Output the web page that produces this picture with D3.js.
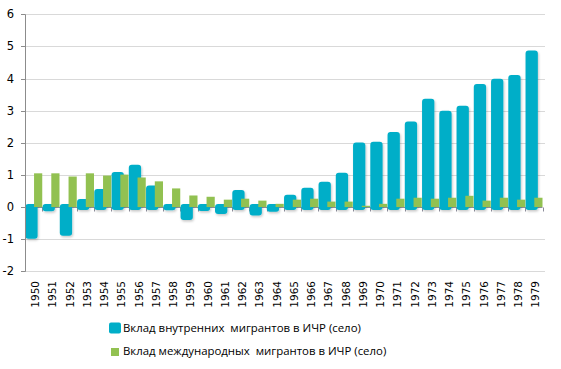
<!DOCTYPE html>
<html><head><meta charset="utf-8">
<script src="https://cdn.jsdelivr.net/npm/d3@7"></script>
<style>body{margin:0;background:#fff}svg{display:block}text{font-family:"DejaVu Sans",Verdana,sans-serif}</style>
</head><body><svg id="c" width="561" height="369"></svg>
<script>
const years = [1950,1951,1952,1953,1954,1955,1956,1957,1958,1959,1960,1961,1962,1963,1964,1965,1966,1967,1968,1969,1970,1971,1972,1973,1974,1975,1976,1977,1978,1979];
const internal = [-0.99,-0.13,-0.89,0.25,0.56,1.09,1.32,0.67,-0.1,-0.4,-0.12,-0.22,0.53,-0.26,-0.15,0.38,0.6,0.79,1.07,2.01,2.03,2.34,2.66,3.37,3.0,3.15,3.83,3.99,4.11,4.87];
const international = [1.05,1.05,0.95,1.05,0.98,1.01,0.92,0.8,0.58,0.36,0.32,0.23,0.26,0.2,0.1,0.23,0.26,0.17,0.17,0.04,0.1,0.26,0.29,0.26,0.29,0.35,0.2,0.29,0.23,0.29];
const yTicks = [-2,-1,0,1,2,3,4,5,6];
const seriesNames = ["Вклад внутренних  мигрантов в ИЧР (село)","Вклад международных  мигрантов в ИЧР (село)"];
const colors = ["#01aec8","#92c151"];

const svg = d3.select("#c");
const x0 = 25, x1 = 542.5;
const y = d3.scaleLinear().domain([-2,6]).range([271.3,14.3]);
const x = d3.scaleBand().domain(years).range([x0,x1]).padding(0);
const bw = x.bandwidth();

const defs = svg.append("defs");
const f = defs.append("filter").attr("id","sh").attr("x","-30%").attr("y","-30%").attr("width","160%").attr("height","160%");
f.append("feDropShadow").attr("dx",1).attr("dy",1.5).attr("stdDeviation",1).attr("flood-color","#000").attr("flood-opacity",0.22);

// gridlines
svg.append("g").selectAll("line").data(yTicks.filter(d=>d!==0)).join("line")
  .attr("x1",x0).attr("x2",545).attr("y1",d=>Math.round(y(d))+0.5).attr("y2",d=>Math.round(y(d))+0.5)
  .attr("stroke","#d9d9d9").attr("stroke-width",1);

// zero axis
const zy = Math.round(y(0))+0.5;
svg.append("line").attr("x1",x0).attr("x2",x1).attr("y1",zy).attr("y2",zy).attr("stroke","#8c8c9a");
svg.append("g").selectAll("line").data(d3.range(years.length+1)).join("line")
  .attr("x1",i=>Math.round(x0+i*bw)+0.5).attr("x2",i=>Math.round(x0+i*bw)+0.5)
  .attr("y1",zy).attr("y2",zy+4).attr("stroke","#8c8c9a");

// blue bars
const ext = 3;
svg.append("g").attr("filter","url(#sh)").selectAll("rect").data(years).join("rect")
  .attr("x",d=>x(d)+0.3).attr("width",12.3)
  .attr("y",(d,i)=> internal[i]>=0 ? y(internal[i]) : y(0)-ext)
  .attr("height",(d,i)=> Math.abs(y(internal[i])-y(0))+ext)
  .attr("rx",3).attr("ry",3).attr("fill",colors[0]);

// green bars
svg.append("g").selectAll("rect").data(years).join("rect")
  .attr("x",d=>x(d)+bw-8.2).attr("width",8.2)
  .attr("y",(d,i)=> y(Math.max(0,international[i])))
  .attr("height",(d,i)=> Math.abs(y(international[i])-y(0)))
  .attr("fill",colors[1]);

// left axis
svg.append("line").attr("x1",x0+0.5).attr("x2",x0+0.5).attr("y1",y(6)).attr("y2",y(-2)+0.5).attr("stroke","#8c8c8c");
svg.append("g").selectAll("line").data(yTicks).join("line")
  .attr("x1",x0-4).attr("x2",x0).attr("y1",d=>Math.round(y(d))+0.5).attr("y2",d=>Math.round(y(d))+0.5).attr("stroke","#8c8c8c");
svg.append("g").selectAll("text").data(yTicks).join("text")
  .attr("x",14).attr("y",d=>y(d)).attr("dy","0.35em").attr("text-anchor","end")
  .attr("font-size",11.5).attr("fill","#000").text(d=>d);

// x labels
svg.append("g").selectAll("text").data(years).join("text")
  .attr("transform",d=>`translate(${x(d)+bw/2+1.8},281) rotate(-90)`)
  .attr("text-anchor","end").attr("dy","0.35em")
  .attr("font-size",10.5).attr("fill","#000").text(d=>d);

// legend
const lg = svg.append("g");
lg.append("rect").attr("x",109).attr("y",322.5).attr("width",12).attr("height",11).attr("rx",2).attr("fill",colors[0]);
lg.append("rect").attr("x",111).attr("y",348).attr("width",8).attr("height",8).attr("fill",colors[1]);
lg.selectAll("text").data(seriesNames).join("text")
  .attr("x",123).attr("y",(d,i)=>[327.7,351.5][i]).attr("dy","0.35em")
  .attr("font-size",11.4).style("font-family","'Open Sans',sans-serif").attr("fill","#000").style("white-space","pre").text(d=>d);
</script></body></html>
